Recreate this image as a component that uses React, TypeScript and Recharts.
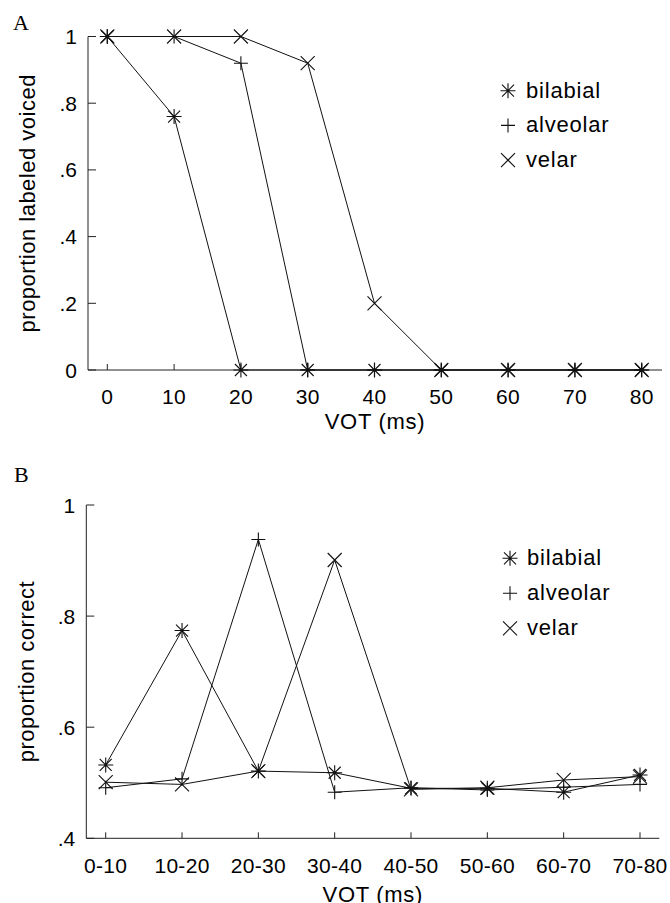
import React from "react";
import { LineChart, Line, XAxis, YAxis, Label } from "recharts";

const SANS = "'Liberation Sans', Arial, Helvetica, sans-serif";
const SERIF = "'Liberation Serif', 'Times New Roman', serif";
const INK = "#111";

// A: identification of stop voicing across the VOT continuum
const votSteps = ["0", "10", "20", "30", "40", "50", "60", "70", "80"];
const voicedBilabial = [1, 0.76, 0, 0, 0, 0, 0, 0, 0];
const voicedAlveolar = [1, 1, 0.92, 0, 0, 0, 0, 0, 0];
const voicedVelar = [1, 1, 1, 0.92, 0.2, 0, 0, 0, 0];
const voicedTicks = [0, 0.2, 0.4, 0.6, 0.8, 1];

// B: discrimination of 10 ms pairs
const votPairs = ["0-10", "10-20", "20-30", "30-40", "40-50", "50-60", "60-70", "70-80"];
const correctBilabial = [0.532, 0.774, 0.521, 0.518, 0.49, 0.49, 0.483, 0.514];
const correctAlveolar = [0.491, 0.507, 0.938, 0.483, 0.491, 0.487, 0.492, 0.497];
const correctVelar = [0.501, 0.497, 0.521, 0.901, 0.488, 0.491, 0.505, 0.511];
const correctTicks = [0.4, 0.6, 0.8, 1];

type Shape = "star" | "plus" | "cross";
const places: { key: "bilabial" | "alveolar" | "velar"; shape: Shape }[] = [
  { key: "bilabial", shape: "star" },
  { key: "alveolar", shape: "plus" },
  { key: "velar", shape: "cross" },
];

const rowsA = votSteps.map((vot, i) => ({
  vot,
  bilabial: voicedBilabial[i],
  alveolar: voicedAlveolar[i],
  velar: voicedVelar[i],
}));

const rowsB = votPairs.map((pair, i) => ({
  pair,
  bilabial: correctBilabial[i],
  alveolar: correctAlveolar[i],
  velar: correctVelar[i],
}));

// 1 -> "1", 0.8 -> ".8"
const fmt = (v: number) => (v === 0 || v === 1 ? String(v) : String(v).replace(/^0/, ""));

function markerPath(shape: Shape, cx: number, cy: number) {
  const r = shape === "plus" ? 7 : 7.5;
  const plus = `M${cx - r} ${cy}H${cx + r}M${cx} ${cy - r}V${cy + r}`;
  const d = shape === "star" ? 6 : 7;
  const cross = `M${cx - d} ${cy - d}L${cx + d} ${cy + d}M${cx - d} ${cy + d}L${cx + d} ${cy - d}`;
  if (shape === "plus") return plus;
  if (shape === "cross") return cross;
  return plus + cross;
}

function Marker({ shape, cx, cy }: { shape: Shape; cx: number; cy: number }) {
  return <path d={markerPath(shape, cx, cy)} stroke={INK} strokeWidth={1.1} fill="none" />;
}

const axisStyle = { stroke: "#222", strokeWidth: 1 };

const xTick = (props: any) => (
  <text x={props.x} y={props.y} dy="0.71em" textAnchor="middle" fontSize={21} fontFamily={SANS} fill="#000" letterSpacing="0.3px">
    {props.payload.value}
  </text>
);

const yTick = (props: any) => (
  <text x={props.x} y={props.y} dy="0.36em" textAnchor="end" fontSize={21} fontFamily={SANS} fill="#000">
    {fmt(props.payload.value)}
  </text>
);

const xLabel = (text: string, dy: number) => (props: any) => {
  const vb = props.viewBox;
  return (
    <text x={vb.x + vb.width / 2} y={vb.y + dy} textAnchor="middle" fontSize={22} fontFamily={SANS} fill="#000" letterSpacing="0.7px">
      {text}
    </text>
  );
};

const yLabel = (text: string, x: number) => (props: any) => {
  const vb = props.viewBox;
  const y = vb.y + vb.height / 2;
  return (
    <text x={x} y={y} transform={`rotate(-90, ${x}, ${y})`} textAnchor="middle" fontSize={22} fontFamily={SANS} fill="#000" letterSpacing="0.5px">
      {text}
    </text>
  );
};

function seriesLines() {
  return places.map((p) => (
    <Line
      key={p.key}
      dataKey={p.key}
      type="linear"
      stroke={INK}
      strokeWidth={1}
      isAnimationActive={false}
      activeDot={false}
      dot={(d: any) => <Marker key={`${p.key}-${d.index}`} shape={p.shape} cx={d.cx} cy={d.cy} />}
    />
  ));
}

function Overlay({ letter, letterX, letterY, mx, tx, my, gap }: { letter: string; letterX: number; letterY: number; mx: number; tx: number; my: number; gap: number }) {
  return (
    <svg width={670} height={460} style={{ position: "absolute", left: 0, top: 0, pointerEvents: "none" }}>
      <text x={letterX} y={letterY} fontSize={22} fontFamily={SERIF} fill="#000">
        {letter}
      </text>
      {places.map((p, i) => (
        <g key={p.key}>
          <Marker shape={p.shape} cx={mx} cy={my + i * gap} />
          <text x={tx} y={my + i * gap + 7} fontSize={22} fontFamily={SANS} fill="#000" letterSpacing="0.8px">
            {p.key}
          </text>
        </g>
      ))}
    </svg>
  );
}

function PanelA() {
  return (
    <div style={{ position: "absolute", left: 0, top: 0, width: 670, height: 440 }}>
      <LineChart width={670} height={440} data={rowsA} margin={{ top: 36.5, right: 8, bottom: 20, left: 28 }}>
        <XAxis dataKey="vot" interval={0} padding={{ left: 19.3, right: 20.3 }} height={50} tickSize={-6} tickMargin={25} axisLine={axisStyle} tickLine={axisStyle} tick={xTick}>
          <Label content={xLabel("VOT (ms)", 59)} />
        </XAxis>
        <XAxis xAxisId="top" dataKey="vot" orientation="top" height={0} tick={false} tickLine={false} axisLine={axisStyle} />
        <YAxis type="number" domain={[0, 1]} ticks={voicedTicks} width={60} tickSize={-8} tickMargin={19} axisLine={axisStyle} tickLine={axisStyle} tick={yTick}>
          <Label content={yLabel("proportion labeled voiced", 35)} />
        </YAxis>
        <YAxis yAxisId="right" orientation="right" type="number" domain={[0, 1]} width={0} tick={false} tickLine={false} axisLine={axisStyle} />
        {seriesLines()}
      </LineChart>
      <Overlay letter="A" letterX={13} letterY={29.5} mx={508} tx={526} my={90.7} gap={34.7} />
    </div>
  );
}

function PanelB() {
  return (
    <div style={{ position: "absolute", left: 0, top: 460, width: 670, height: 443, overflow: "hidden" }}>
      <LineChart width={670} height={443} data={rowsB} margin={{ top: 45, right: 10.7, bottom: 14.7, left: 26.3 }}>
        <XAxis dataKey="pair" interval={0} padding={{ left: 19.4, right: 19.3 }} height={50} tickSize={-6} tickMargin={26} axisLine={axisStyle} tickLine={axisStyle} tick={xTick}>
          <Label content={xLabel("VOT (ms)", 64)} />
        </XAxis>
        <XAxis xAxisId="top" dataKey="pair" orientation="top" height={0} tick={false} tickLine={false} axisLine={axisStyle} />
        <YAxis type="number" domain={[0.4, 1]} ticks={correctTicks} width={60} tickSize={-8} tickMargin={19} axisLine={axisStyle} tickLine={axisStyle} tick={yTick}>
          <Label content={yLabel("proportion correct", 34)} />
        </YAxis>
        <YAxis yAxisId="right" orientation="right" type="number" domain={[0.4, 1]} width={0} tick={false} tickLine={false} axisLine={axisStyle} />
        {seriesLines()}
      </LineChart>
      <Overlay letter="B" letterX={14} letterY={21.7} mx={510} tx={527} my={98.3} gap={35} />
    </div>
  );
}

export default function App() {
  return (
    <div style={{ position: "absolute", left: 0, top: 0, width: 670, height: 903, background: "#fff", overflow: "hidden" }}>
      <PanelA />
      <PanelB />
    </div>
  );
}
